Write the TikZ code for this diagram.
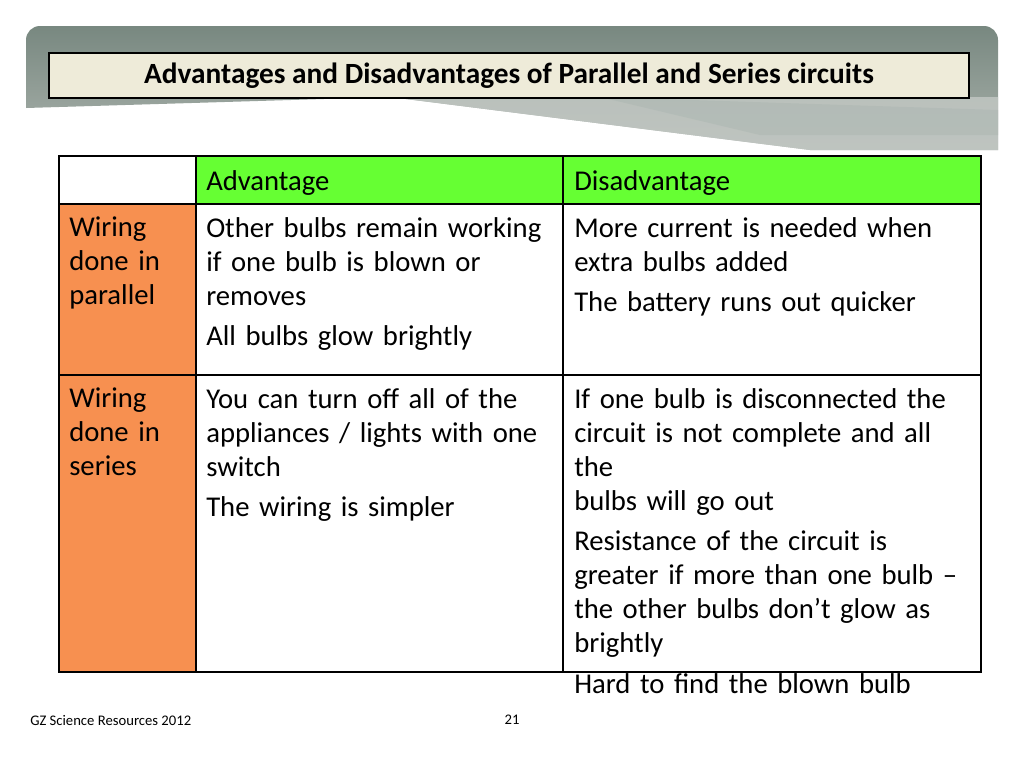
\documentclass[tikz,border=0pt]{standalone}
\usepackage{fontspec}
\setmainfont{Carlito}
\definecolor{cream}{RGB}{238,235,217}
\definecolor{hgreen}{RGB}{102,255,51}
\definecolor{horange}{RGB}{247,144,80}
\definecolor{band}{RGB}{120,136,128}
\definecolor{bandl}{RGB}{170,178,172}
\begin{document}
\begin{tikzpicture}[x=0.75pt,y=-0.75pt,
  cell/.style={anchor=north west,inner sep=0pt,align=left,font=\fontsize{21.5}{25.5}\selectfont},
  grid/.style={line width=1pt,draw=black}]
\useasboundingbox (0,0) rectangle (1024,768);
\fill[white] (0,0) rectangle (1024,768);
% header decoration
\shade[top color=band,bottom color=bandl]
  (26,40) to[out=90,in=180] (40,26) -- (984,26) to[out=0,in=90] (998,40) -- (998,150) -- (810,150) -- (390,97) -- (26,108) -- cycle;
\fill[bandl!70,opacity=0.8] (390,97) -- (998,97) -- (998,150) -- (810,150) -- cycle;
\fill[band!60,opacity=0.6] (600,97) -- (998,110) -- (998,135) -- (760,135) -- cycle;
\node[draw=black,line width=0.8pt,fill=cream,minimum width=690pt,minimum height=33.75pt,inner sep=0pt,font=\fontsize{22}{24}\selectfont\bfseries] (title) at (509,75.5) {Advantages and Disadvantages of Parallel and Series circuits};
% table fills
\fill[hgreen] (196,156) rectangle (981,204);
\fill[horange] (59,204) rectangle (196,672);
% grid
\draw[grid] (196,156) -- (196,672) (563,156) -- (563,672) (59,204) -- (981,204) (59,375) -- (981,375);
\draw[line width=2.2pt] (59,156) rectangle (981,672);
% texts
\node[cell] (h1) at (206,170) {Advantage};
\node[cell] (h2) at (574,170) {Disadvantage};
\node[cell,text width=100pt] (r1) at (69,217) {Wiring\\done in\\parallel};
\node[cell,text width=270pt] (a1) at (206,217) {Other bulbs remain working\\if one bulb is blown or\\removes\\[5pt]All bulbs glow brightly};
\node[cell,text width=300pt] (d1) at (574,217) {More current is needed when\\extra bulbs added\\[5pt]The battery runs out quicker};
\node[cell,text width=100pt] (r2) at (69,388) {Wiring\\done in\\series};
\node[cell,text width=270pt] (a2) at (206,388) {You can turn off all of the\\appliances / lights with one\\switch\\[5pt]The wiring is simpler};
\node[cell,text width=300pt] (d2) at (574,388) {If one bulb is disconnected the\\circuit is not complete and all the\\bulbs will go out\\[5pt]Resistance of the circuit is\\greater if more than one bulb --\\the other bulbs don’t glow as\\brightly\\[5pt]Hard to find the blown bulb};
% footer
\node[anchor=west,inner sep=0pt,font=\fontsize{11}{12}\selectfont] (f1) at (30,720) {GZ Science Resources 2012};
\node[inner sep=0pt,font=\fontsize{11}{12}\selectfont] (f2) at (512,720) {21};
\end{tikzpicture}
\end{document}
